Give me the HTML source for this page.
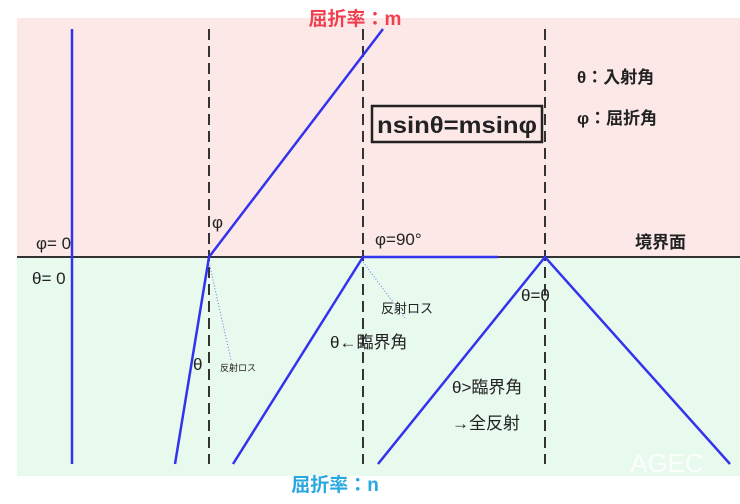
<!DOCTYPE html>
<html><head><meta charset="utf-8"><style>
body{margin:0;background:#fff;}
svg text{font-family:"Liberation Sans","Noto Sans CJK JP",sans-serif;}
</style></head><body>
<svg width="740" height="499" xmlns="http://www.w3.org/2000/svg">
<rect x="17" y="18" width="723" height="239" fill="#fde8e8"/>
<rect x="17" y="257" width="723" height="219" fill="#e8f9ee"/>
<line x1="17" y1="257" x2="740" y2="257" stroke="#333" stroke-width="2"/>
<g stroke="#333" stroke-width="2" stroke-dasharray="11,6">
<line x1="209" y1="29" x2="209" y2="464"/>
<line x1="363" y1="29" x2="363" y2="464"/>
<line x1="545" y1="29" x2="545" y2="464"/>
</g>
<g stroke="#3333ee" stroke-width="2.5" fill="none">
<line x1="72" y1="29" x2="72" y2="464"/>
<polyline points="175,464 209,257 383,29"/>
<polyline points="233,464 363,257 498,257"/>
<polyline points="378,464 545,257 730,464"/>
</g>
<g stroke="#6677ee" stroke-width="1" stroke-dasharray="1,2">
<line x1="209" y1="262" x2="231" y2="360"/>
<line x1="363" y1="262" x2="405" y2="318"/>
</g>
<rect x="372" y="106" width="170" height="36" fill="none" stroke="#222" stroke-width="2.5"/>
<text x="457" y="133" font-size="23" font-weight="bold" text-anchor="middle" fill="#222" textLength="160" lengthAdjust="spacingAndGlyphs">nsinθ=msinφ</text>
<text x="355" y="25" font-size="19" font-weight="bold" text-anchor="middle" fill="#f04050">屈折率：m</text>
<text x="335" y="491" font-size="19" font-weight="bold" text-anchor="middle" fill="#29a8e0">屈折率：n</text>
<g font-size="17" font-weight="bold" fill="#222">
<text x="577" y="83">θ：入射角</text>
<text x="577" y="124">φ：屈折角</text>
<text x="635" y="248">境界面</text>
</g>
<g font-size="17" fill="#222">
<text x="36" y="249">φ= 0</text>
<text x="32" y="284">θ= 0</text>
<text x="212" y="228">φ</text>
<text x="375" y="245">φ=90°</text>
<text x="193" y="370">θ</text>
<text x="330" y="348">θ←臨界角</text>
<text x="521" y="301">θ=θ</text>
<text x="452" y="393">θ&gt;臨界角</text>
<text x="452" y="429">→全反射</text>
</g>
<text x="381" y="313" font-size="13" fill="#222">反射ロス</text>
<text x="220" y="371" font-size="9" fill="#222">反射ロス</text>
<text x="630" y="472" font-size="26" fill="#fff" opacity="0.9">AGEC</text>
</svg>
</body></html>
